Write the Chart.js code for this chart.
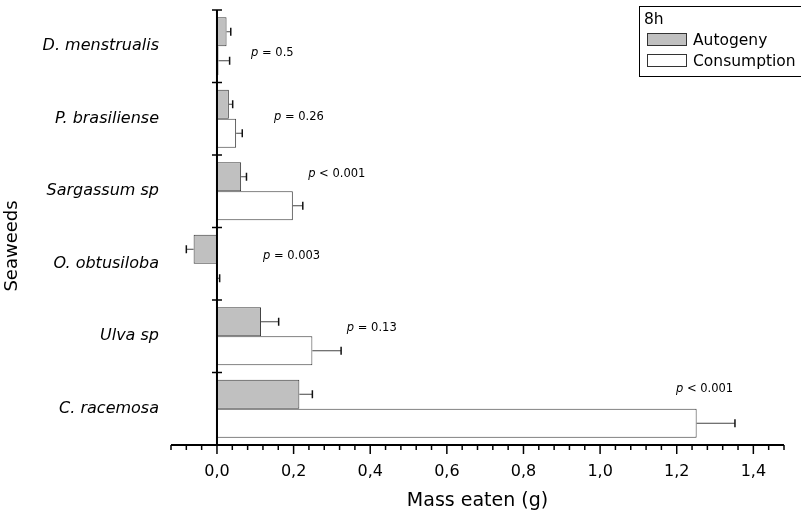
<!DOCTYPE html>
<html>
<head>
<meta charset="utf-8">
<script src="https://cdn.jsdelivr.net/npm/chart.js@4/dist/chart.umd.min.js"></script>
<style>
  body { margin: 0; background: #fff; }
  canvas { display: block; }
</style>
</head>
<body>
<canvas id="chart" width="801" height="518"></canvas>
<script>
// Seaweed categories, top to bottom
const seaweeds = ['D. menstrualis', 'P. brasiliense', 'Sargassum sp', 'O. obtusiloba', 'Ulva sp', 'C. racemosa'];

// Mass eaten (g) and error bars
const autogeny = [0.025, 0.031, 0.063, -0.061, 0.115, 0.215];
const autogenyErr = [0.011, 0.010, 0.014, 0.019, 0.046, 0.034];
const consumption = [0.004, 0.050, 0.198, 0.001, 0.249, 1.252];
const consumptionErr = [0.029, 0.016, 0.026, 0.006, 0.075, 0.100];

// p-value notes: text, x value of left edge, shift in category units
const pTexts = ['= 0.5', '= 0.26', '< 0.001', '= 0.003', '= 0.13', '< 0.001'];
const pX = [0.089, 0.149, 0.238, 0.120, 0.339, 1.198];
const pDy = [0.093, -0.024, -0.238, -0.107, -0.114, -0.272];

const xMin = -0.12;
const xMax = 1.48;
const xStep = 0.04;

const FONT = '"DejaVu Sans", "Liberation Sans", sans-serif';
Chart.defaults.font.family = FONT;
Chart.defaults.color = '#000';

const isMajor = (v) => Math.round(v * 100) % 20 === 0;

// error bars, axis lines, tick marks and p-values
const extrasPlugin = {
  id: 'extras',
  afterDatasetsDraw(chart) {
    const { ctx, chartArea } = chart;
    const xs = chart.scales.x;
    const ys = chart.scales.y;
    const errs = [autogenyErr, consumptionErr];

    ctx.save();
    chart.data.datasets.forEach((ds, di) => {
      const meta = chart.getDatasetMeta(di);
      meta.data.forEach((bar, i) => {
        const v = ds.data[i];
        const sign = v < 0 ? -1 : 1;
        const end = xs.getPixelForValue(v + sign * errs[di][i]);
        ctx.strokeStyle = '#444';
        ctx.lineWidth = 1;
        ctx.beginPath();
        ctx.moveTo(bar.x, bar.y);
        ctx.lineTo(end, bar.y);
        ctx.stroke();
        ctx.strokeStyle = '#111';
        ctx.lineWidth = 1.5;
        ctx.beginPath();
        ctx.moveTo(end, bar.y - 4);
        ctx.lineTo(end, bar.y + 4);
        ctx.stroke();
      });
    });

    // x axis line and ticks
    const zeroX = xs.getPixelForValue(0);
    ctx.strokeStyle = '#000';
    ctx.lineWidth = 2;
    ctx.beginPath();
    ctx.moveTo(chartArea.left, chartArea.bottom);
    ctx.lineTo(chartArea.right, chartArea.bottom);
    ctx.stroke();
    ctx.lineWidth = 1.5;
    xs.ticks.forEach((t) => {
      const px = xs.getPixelForValue(t.value);
      const len = isMajor(t.value) ? 9 : 5;
      ctx.beginPath();
      ctx.moveTo(px, chartArea.bottom);
      ctx.lineTo(px, chartArea.bottom + len);
      ctx.stroke();
    });

    // y axis at zero with crossing ticks between categories
    ctx.lineWidth = 2;
    ctx.beginPath();
    ctx.moveTo(zeroX, chartArea.top);
    ctx.lineTo(zeroX, chartArea.bottom + 1);
    ctx.stroke();
    ctx.lineWidth = 1.5;
    for (let i = 0; i < seaweeds.length; i++) {
      const py = ys.getPixelForValue(i - 0.5);
      ctx.beginPath();
      ctx.moveTo(zeroX - 5, py);
      ctx.lineTo(zeroX + 5, py);
      ctx.stroke();
    }

    // p-values
    ctx.fillStyle = '#000';
    ctx.textBaseline = 'middle';
    ctx.textAlign = 'left';
    pTexts.forEach((txt, i) => {
      const px = xs.getPixelForValue(pX[i]);
      const py = ys.getPixelForValue(i + pDy[i]);
      ctx.font = 'italic 11.5px ' + FONT;
      ctx.fillText('p', px, py);
      const w = ctx.measureText('p ').width;
      ctx.font = '11.5px ' + FONT;
      ctx.fillText(txt, px + w, py);
    });
    ctx.restore();
  },
  afterDraw(chart) {
    const { ctx } = chart;
    const ds = chart.data.datasets;
    ctx.save();

    // y axis title
    ctx.fillStyle = '#000';
    ctx.font = '18px ' + FONT;
    ctx.textAlign = 'center';
    ctx.textBaseline = 'middle';
    ctx.translate(12, 246);
    ctx.rotate(-Math.PI / 2);
    ctx.fillText('Seaweeds', 0, 0);
    ctx.setTransform(1, 0, 0, 1, 0, 0);

    // legend box
    ctx.strokeStyle = '#000';
    ctx.lineWidth = 1;
    ctx.strokeRect(639.5, 6.5, 200, 70);
    ctx.textAlign = 'left';
    ctx.font = '15.5px ' + FONT;
    ctx.fillText('8h', 644, 20);
    [40, 61].forEach((cy, di) => {
      ctx.fillStyle = ds[di].backgroundColor;
      ctx.fillRect(647.5, cy - 6.5, 39, 12);
      ctx.strokeStyle = '#333';
      ctx.strokeRect(647.5, cy - 6.5, 39, 12);
      ctx.fillStyle = '#000';
      ctx.fillText(ds[di].label, 693, cy + 1);
    });
    ctx.restore();
  },
};

new Chart(document.getElementById('chart'), {
  type: 'bar',
  data: {
    labels: seaweeds,
    datasets: [
      {
        label: 'Autogeny',
        data: autogeny,
        backgroundColor: '#c0c0c0',
        borderColor: '#3a3a3a',
        borderWidth: 1,
        borderSkipped: false,
      },
      {
        label: 'Consumption',
        data: consumption,
        backgroundColor: '#ffffff',
        borderColor: '#3a3a3a',
        borderWidth: 1,
        borderSkipped: false,
      },
    ],
  },
  options: {
    indexAxis: 'y',
    responsive: false,
    animation: false,
    devicePixelRatio: 1,
    categoryPercentage: 0.8,
    barPercentage: 1.0,
    layout: { padding: { top: 10, right: 17, bottom: 0, left: 0 } },
    plugins: {
      legend: { display: false },
      tooltip: { enabled: false },
    },
    scales: {
      x: {
        type: 'linear',
        min: xMin,
        max: xMax,
        grid: { display: false, drawTicks: false },
        border: { display: false },
        ticks: {
          stepSize: xStep,
          autoSkip: false,
          maxRotation: 0,
          padding: 17,
          font: { size: 16 },
          callback: (v) => (isMajor(v) ? (Math.round(v * 100) / 100).toFixed(1).replace('.', ',') : ''),
        },
        title: {
          display: true,
          text: 'Mass eaten (g)',
          font: { size: 19 },
          padding: { top: 0, bottom: 6 },
        },
        afterFit: (scale) => {
          scale.height = 73;
          scale.paddingLeft = 0;
          scale.paddingRight = 0;
        },
      },
      y: {
        grid: { display: false, drawTicks: false },
        border: { display: false },
        ticks: {
          padding: 12,
          font: { size: 16, style: 'italic' },
        },
        afterFit: (scale) => {
          scale.width = 171;
          scale.paddingTop = 0;
          scale.paddingBottom = 0;
        },
      },
    },
  },
  plugins: [extrasPlugin],
});
</script>
</body>
</html>
